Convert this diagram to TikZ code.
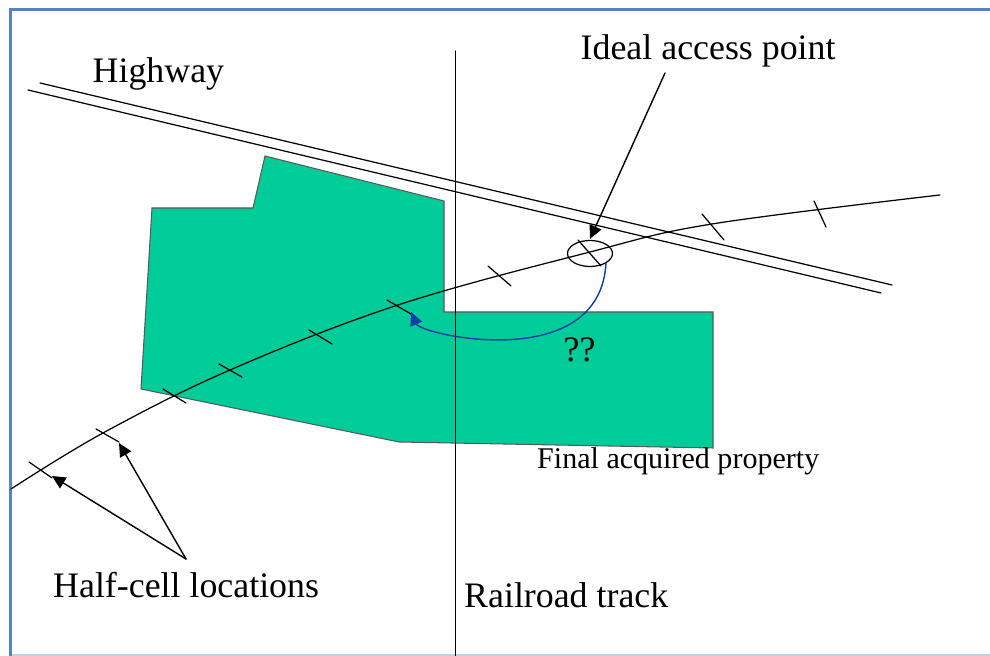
\documentclass[tikz,border=0pt]{standalone}
\usepackage{fontspec}
\setmainfont{Liberation Serif}
\usepackage{xcolor}
\definecolor{property}{HTML}{00CC99}
\definecolor{frameblue}{HTML}{5585C0}
\definecolor{framepale}{HTML}{C0D0E8}
\definecolor{routeblue}{HTML}{0B3FA8}
\usetikzlibrary{arrows.meta}
\begin{document}
\begin{tikzpicture}[>=Latex,line cap=round,
    thinline/.style={draw=black,line width=0.35pt},
    tick/.style={draw=black,line width=0.35pt},
    label/.style={inner sep=0pt,font=\fontsize{10.2pt}{12pt}\selectfont},
    pointer/.style={draw=black,line width=0.4pt,-{Triangle[length=3.8pt,width=3.6pt]}}]
  \useasboundingbox (0,0) rectangle (9.9,6.56);
  % frame
  \draw[framepale,line width=0.4pt] (0.105,0.01) -- (9.9,0.01);
  \draw[frameblue,line width=0.85pt,line cap=butt] (0.103,0) -- (0.103,6.465) -- (9.9,6.465);
  % property
  \draw[fill=property,draw=black!65,line width=0.3pt]
    (2.65,5.0) -- (2.53,4.48) -- (1.52,4.48) -- (1.41,2.67) -- (3.99,2.14)
    -- (7.13,2.08) -- (7.13,3.44) -- (4.44,3.44) -- (4.44,4.55) -- cycle;
  % railroad
  \draw[thinline] (4.553,6.05) -- (4.553,0);
  % highway
  \draw[thinline] (0.40,5.73) -- (8.92,3.71);
  \draw[thinline] (0.28,5.66) -- (8.81,3.63);
  % pipeline
  \draw[thinline] plot[smooth,tension=0.6] coordinates {(0.11,1.67) (1.03,2.23) (2.3,2.86)
    (3.98,3.51) (5.90,4.04) (7.12,4.32) (9.40,4.61)};
  % half cells
  \draw[tick] (0.29,1.94) -- (0.52,1.78);
  \draw[tick] (0.96,2.27) -- (1.19,2.14);
  \draw[tick] (1.63,2.67) -- (1.86,2.53);
  \draw[tick] (2.19,2.92) -- (2.42,2.79);
  \draw[tick] (3.09,3.26) -- (3.32,3.12);
  \draw[tick] (3.87,3.56) -- (4.11,3.42);
  \draw[tick] (4.88,3.90) -- (5.11,3.70);
  \draw[tick] (5.78,4.16) -- (6.01,3.90);
  \draw[tick] (7.02,4.42) -- (7.24,4.16);
  \draw[tick] (8.14,4.55) -- (8.26,4.29);
  % access point
  \draw[thinline] (5.90,4.025) ellipse (0.225 and 0.13);
  \draw[draw=routeblue,line width=0.4pt,-{Triangle[length=3.8pt,width=3.6pt]}]
    (6.06,3.93) .. controls (6.00,2.81) and (4.21,3.21) .. (4.11,3.44);
  \coordinate (idealstart) at (6.65,5.83);
  \draw[pointer] (idealstart) -- (5.90,4.17);
  % half cell pointers
  \coordinate (cellstart) at (1.86,0.97);
  \draw[pointer] (cellstart) -- (0.52,1.80);
  \draw[pointer] (cellstart) -- (1.19,2.13);
  % labels
  \node[label,anchor=base west] (highway) at (0.92,5.73) {Highway};
  \node[label,anchor=base west] (ideal) at (5.80,5.96) {Ideal access point};
  \node[label,anchor=base west] (halfcell) at (0.525,0.585) {Half-cell locations};
  \node[label,anchor=base west] (railroad) at (4.635,0.485) {Railroad track};
  \node[label,anchor=base west,font=\fontsize{8.55pt}{10pt}\selectfont] (acquired) at (5.365,1.875) {Final acquired property};
  \node[label,anchor=base west] (question) at (5.63,2.94) {??};
\end{tikzpicture}
\end{document}
